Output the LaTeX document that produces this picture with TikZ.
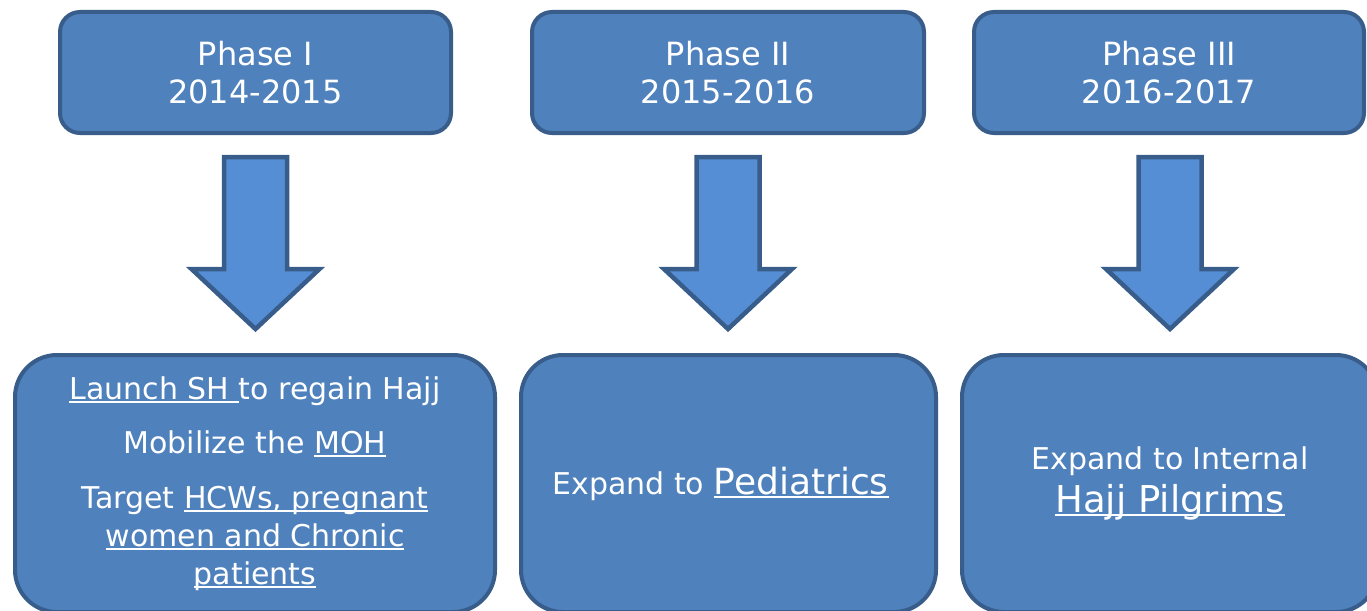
\documentclass[tikz,border=0pt]{standalone}
\usepackage{fontspec}
\setmainfont{DejaVu Sans}
\definecolor{boxfill}{RGB}{79,129,189}
\definecolor{boxline}{RGB}{56,93,138}
\definecolor{arrowfill}{RGB}{85,142,213}
% underline sitting just below the baseline, crossing descenders
\newcommand\ulin[1]{\setbox0\hbox{#1}\rlap{\rule[-3.5pt]{\wd0}{1.6pt}}\box0}
\tikzset{
  phasebox/.style={draw=boxline, fill=boxfill, line width=4pt, rounded corners=20pt,
    text=white, align=center, font=\fontsize{32}{38}\selectfont, inner sep=0pt},
  goalbox/.style={draw=boxline, fill=boxfill, line width=4pt, rounded corners=42pt,
    text=white, align=center, inner sep=0pt, font=\fontsize{30}{38}\selectfont},
  blockarrow/.style={draw=boxline, fill=arrowfill, line width=4.5pt, line join=miter},
  pics/downarrow/.style={code={
    \draw[blockarrow] (-31.5,0) -- (31.5,0) -- (31.5,112) -- (64,112) -- (0,172)
      -- (-64,112) -- (-31.5,112) -- cycle;
  }}
}
\begin{document}
\begin{tikzpicture}[x=1pt,y=-1pt]
\useasboundingbox (0,0) rectangle (1367,610);
\clip (0,0) rectangle (1367,610);

% phase headers
\node[phasebox, minimum width=391pt, minimum height=121pt] (ph1) at (255.5,72.5)
  {Phase I\\2014-2015};
\node[phasebox, minimum width=392pt, minimum height=121pt] (ph2) at (728,72.5)
  {Phase II\\2015-2016};
\node[phasebox, minimum width=390pt, minimum height=121pt] (ph3) at (1169,72.5)
  {Phase III\\2016-2017};

% block arrows
\pic (ar1) at (255.5,157) {downarrow};
\pic (ar2) at (728,157) {downarrow};
\pic (ar3) at (1170,157) {downarrow};

% goals for each phase
\node[goalbox, minimum width=480pt, minimum height=257pt] (g1) at (255,483.5)
  {\ulin{Launch SH }to regain Hajj\\[16pt]
   Mobilize the \ulin{MOH}\\[17pt]
   Target \ulin{HCWs, pregnant}\\
   \ulin{women and Chronic}\\
   \ulin{patients}};
\node[goalbox, minimum width=415pt, minimum height=257pt] (g2) at (728.5,483.5)
  {Expand to \fontsize{36}{40}\selectfont\ulin{Pediatrics}\hspace{16pt}};
\node[goalbox, minimum width=416pt, minimum height=257pt] (g3) at (1170,483.5)
  {Expand to Internal\\[5pt]
   \fontsize{37}{44}\selectfont\ulin{Hajj Pilgrims}};
\end{tikzpicture}
\end{document}
